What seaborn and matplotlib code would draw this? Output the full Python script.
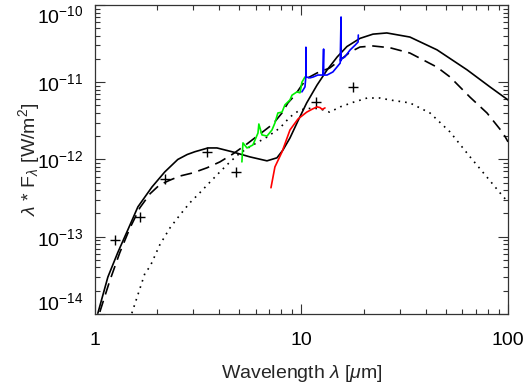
import matplotlib
matplotlib.use('Agg')
import matplotlib.pyplot as plt
import matplotlib.ticker as mticker
import seaborn as sns

sns.set_style('ticks')
plt.rcParams['font.family'] = ['Liberation Sans', 'DejaVu Sans']
plt.rcParams['mathtext.fontset'] = 'custom'
plt.rcParams['mathtext.rm'] = 'Liberation Sans'
plt.rcParams['mathtext.it'] = 'Liberation Sans:italic'

# total model (solid)
solid_lam = [1.034, 1.156, 1.29, 1.445, 1.615, 1.89, 2.18, 2.52, 2.80, 3.05, 3.53, 3.90,
             4.66, 5.63, 6.81, 7.61, 8.13, 8.80, 9.62, 10.6, 11.9, 13.3, 14.9, 16.6, 19.2,
             22.2, 25.9, 33.5, 45.3, 63.3, 81.8, 100]
solid_f = [1.02e-14, 3.0e-14, 6.2e-14, 1.23e-13, 2.43e-13, 4.4e-13, 6.9e-13, 1.0e-12,
           1.16e-12, 1.26e-12, 1.41e-12, 1.41e-12, 1.25e-12, 1.08e-12, 9.6e-13, 1.05e-12,
           1.32e-12, 1.9e-12, 3.16e-12, 5.4e-12, 9.2e-12, 1.44e-11, 2.13e-11, 2.9e-11,
           3.7e-11, 4.2e-11, 4.35e-11, 3.85e-11, 2.63e-11, 1.45e-11, 8.7e-12, 5.9e-12]

# second model (dashed)
dash_lam = [1.057, 1.18, 1.32, 1.48, 1.65, 1.85, 2.06, 2.31, 2.58, 2.98, 3.49, 4.03,
            4.66, 5.45, 6.30, 7.28, 8.05, 8.60, 9.30, 10.05, 10.75, 11.9, 13.7, 15.4,
            17.2, 19.2, 22.2, 26.8, 33.5, 45.3, 52.4, 65.5, 79.1, 94.6, 100]
dash_f = [1.06e-14, 2.67e-14, 6.2e-14, 1.30e-13, 2.36e-13, 3.6e-13, 4.7e-13, 5.4e-13,
          6.1e-13, 6.7e-13, 7.8e-13, 9.3e-13, 1.18e-12, 1.59e-12, 2.14e-12, 2.88e-12,
          4.0e-12, 5.4e-12, 6.8e-12, 9.2e-12, 1.14e-11, 1.32e-11, 1.53e-11, 1.94e-11,
          2.46e-11, 2.86e-11, 2.95e-11, 2.8e-11, 2.39e-11, 1.57e-11, 1.17e-11, 6.4e-12,
          4.0e-12, 2.2e-12, 1.69e-12]

# third model (dotted)
dot_lam = [1.51, 1.75, 1.85, 2.06, 2.31, 2.58, 2.88, 3.22, 3.61, 4.03, 4.51, 5.04, 5.82,
           6.81, 7.87, 8.80, 9.84, 11.4, 12.7, 13.7, 15.4, 17.8, 20.8, 24.0, 26.8, 33.5,
           41.9, 52.4, 65.5, 79.1, 91.4, 100]
dot_f = [1.02e-14, 3.4e-14, 4.1e-14, 7.8e-14, 1.30e-13, 1.91e-13, 2.74e-13, 3.7e-13,
         5.1e-13, 6.9e-13, 9.3e-13, 1.21e-12, 1.54e-12, 1.95e-12, 2.56e-12, 3.55e-12,
         4.4e-12, 4.65e-12, 4.4e-12, 4.1e-12, 4.8e-12, 5.5e-12, 6.25e-12, 6.25e-12,
         5.9e-12, 5.4e-12, 4.0e-12, 2.27e-12, 1.08e-12, 5.9e-13, 3.7e-13, 2.8e-13]

# spectra
red_lam = [7.12, 7.44, 8.05, 8.80, 9.62, 10.6, 11.3, 11.9, 12.3, 12.6, 13.0]
red_f = [4.3e-13, 8.0e-13, 1.25e-12, 2.41e-12, 3.34e-12, 4.1e-12, 4.5e-12, 4.8e-12,
         4.7e-12, 4.45e-12, 4.65e-12]

green_lam = [5.15, 5.21, 5.45, 5.82, 6.16, 6.22, 6.44, 6.81, 7.20, 7.44, 7.69, 8.05,
             8.32, 8.80, 9.0, 9.51, 9.84, 9.94, 10.05, 10.4]
green_f = [9.3e-13, 1.64e-12, 1.41e-12, 1.54e-12, 2.2e-12, 2.88e-12, 2.08e-12, 2.01e-12,
           2.41e-12, 2.97e-12, 4.0e-12, 4.1e-12, 5.1e-12, 5.9e-12, 6.8e-12, 7.5e-12,
           7.3e-12, 8.4e-12, 1.0e-11, 1.17e-11]

blue_lam = [10.05, 10.4, 10.5, 10.51, 10.53, 11.0, 11.4, 12.0, 12.7, 12.8, 12.82, 13.3,
            14.2, 15.4, 15.55, 15.56, 15.6, 16.2, 17.2, 18.2, 18.8, 18.85]
blue_f = [7.5e-12, 8.7e-12, 1.17e-11, 2.84e-11, 1.17e-11, 1.14e-11, 1.17e-11, 1.24e-11,
          1.24e-11, 2.69e-11, 1.24e-11, 1.24e-11, 1.36e-11, 1.77e-11, 7.0e-11, 1.9e-11,
          2.0e-11, 2.12e-11, 2.62e-11, 3.03e-11, 3.32e-11, 4.09e-11]

# photometry
phot_lam = [1.25, 1.65, 2.18, 3.49, 4.82, 11.8, 17.8]
phot_f = [9.1e-14, 1.8e-13, 5.6e-13, 1.25e-12, 6.9e-13, 5.5e-12, 8.7e-12]

y_ticks = [1e-14, 1e-13, 1e-12, 1e-11, 1e-10]
y_labels = [r'$10^{-14}$', r'$10^{-13}$', r'$10^{-12}$', r'$10^{-11}$', r'$10^{-10}$']
x_ticks = [1, 10, 100]
x_labels = ['1', '10', '100']

fig = plt.figure(figsize=(5.27, 3.88), dpi=100)
ax = fig.add_axes([0.180, 0.191, 0.784, 0.796])

kw = dict(sort=False, estimator=None, ax=ax, legend=False)
sns.lineplot(x=solid_lam, y=solid_f, color='black', lw=1.2, **kw)
sns.lineplot(x=dash_lam, y=dash_f, color='black', lw=1.2, **kw)
ax.lines[-1].set_dashes([7, 4])
sns.lineplot(x=dot_lam, y=dot_f, color='black', lw=1.2, **kw)
ax.lines[-1].set_dashes([1, 3])
sns.lineplot(x=red_lam, y=red_f, color='#ff0000', lw=1.2, **kw)
sns.lineplot(x=green_lam, y=green_f, color='#00f000', lw=1.2, **kw)
sns.lineplot(x=blue_lam, y=blue_f, color='#0000ff', lw=1.2, **kw)
sns.scatterplot(x=phot_lam, y=phot_f, marker='+', color='black', s=45, linewidth=1.0,
                ax=ax, legend=False)

ax.set_xscale('log')
ax.set_yscale('log')
ax.set_xlim(1, 100)
ax.set_ylim(1e-14, 1e-10)
ax.yaxis.set_major_locator(mticker.FixedLocator(y_ticks))
ax.yaxis.set_major_formatter(mticker.FixedFormatter(y_labels))
ax.xaxis.set_major_locator(mticker.FixedLocator(x_ticks))
ax.xaxis.set_major_formatter(mticker.FixedFormatter(x_labels))
ax.tick_params(which='both', direction='in', top=True, right=True, labelsize=14,
               width=0.8, colors='#333333', labelcolor='black')
ax.tick_params(which='major', length=7)
ax.tick_params(axis='y', which='major', pad=8)
ax.tick_params(axis='x', which='major', pad=13)
ax.tick_params(which='minor', length=3.5)
for s in ax.spines.values():
    s.set_linewidth(0.9)
    s.set_color('#333333')

# keep end labels inside the frame, like the original
yt = ax.yaxis.get_major_ticks()
yt[0].label1.set_va('bottom')
yt[-1].label1.set_va('top')

ax.set_xlabel(r'Wavelength $\lambda$ [$\mu$m]', fontsize=14)
ax.set_ylabel(r'$\lambda$ * F$_\lambda$ [W/m$^2$]', fontsize=14)
ax.yaxis.set_label_coords(-0.128, 0.5)
ax.xaxis.set_label_coords(0.5, -0.158)

fig.savefig('out.png', dpi=100)
